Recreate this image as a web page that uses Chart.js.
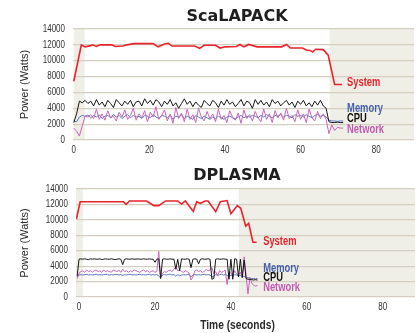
<!DOCTYPE html>
<html>
<head>
<meta charset="utf-8">
<script src="https://cdn.jsdelivr.net/npm/chart.js@4.4.1/dist/chart.umd.min.js"></script>
<style>
  html, body { margin: 0; padding: 0; background: #fff; }
  canvas { display: block; }
</style>
</head>
<body>
<canvas id="scalapack" width="417" height="167"></canvas>
<canvas id="dplasma" width="417" height="166"></canvas>
<script>
// ---- data ----
const xTicks = [0, 20, 40, 60, 80]
const yTicks = [0, 2000, 4000, 6000, 8000, 10000, 12000, 14000]
const seriesNames = ["System", "Memory", "CPU", "Network"]

// ScaLAPACK: sampled every 0.75 s starting at t = 0
const scaStart = 0
const scaStep = 0.75
const scaSystem = [
  [0, 7400], [2, 12000], [3, 11750], [4.5, 11900], [5, 12000], [6, 11800], [7, 12000], [10, 12000],
  [11, 11800], [13, 11850], [14, 12000], [16, 12150], [21, 12150], [22.3, 11750], [24, 12100],
  [25, 12200], [26, 11850], [32, 11850], [33.3, 11550], [34.5, 11950], [37.5, 11950], [38.7, 11600],
  [40, 11750], [43, 11800], [44, 12050], [45, 11750], [46.3, 12050], [48.5, 11750], [55, 11750],
  [56.3, 12050], [57.3, 11600], [60.5, 11600], [61.5, 11350], [62.5, 11300], [63.2, 11100],
  [64, 11450], [66, 11400], [67.3, 10700], [69, 7000], [71, 7000],
]
const scaCpu = [
  2200, 3300, 4900, 4700, 5000, 4600, 4900, 4300,
  5100, 4400, 4800, 4200, 5000, 4600, 4100, 5100,
  4700, 4300, 4900, 4500, 5000, 4200, 4800, 4900,
  4300, 5200, 4600, 5000, 4400, 5100, 4800, 4200,
  4900, 4500, 5100, 4300, 4700, 4000, 4600, 5200,
  4500, 4900, 4200, 4800, 4400, 4100, 5000, 4600,
  4300, 5000, 4700, 4100, 4900, 4400, 5100, 4500,
  4800, 4200, 4600, 5100, 4300, 4900, 4700, 4000,
  5100, 4500, 5000, 4400, 4800, 4200, 5100, 4600,
  4900, 4300, 4700, 5000, 4400, 4800, 4100, 4900,
  4500, 5000, 4300, 4700, 4200, 4900, 4400, 5000,
  4300, 4000, 2300, 2200, 2200, 2250, 2200, 2200,
]
const scaMemory = [
  2400, 2300, 2900, 3100, 3000, 3150, 2800, 3100,
  2900, 3200, 2700, 3000, 3100, 2800, 3200, 2900,
  3100, 2700, 3000, 3200, 2800, 3100, 2900, 3000,
  2700, 3100, 3000, 2800, 3200, 2900, 2700, 3100,
  3000, 2800, 3100, 2600, 3000, 2900, 3200, 2700,
  3000, 2800, 2600, 3100, 2900, 2700, 3000, 2800,
  2600, 2900, 2700, 3000, 2800, 2600, 2900, 3000,
  2800, 2700, 2900, 3100, 2800, 3000, 2900, 3100,
  3000, 2800, 3100, 2900, 3200, 3000, 2800, 3100,
  3000, 3200, 2900, 3100, 3000, 2800, 3200, 3000,
  3100, 2900, 3200, 3000, 2800, 3100, 3200, 3000,
  3100, 2900, 2500, 2400, 2400, 2350, 2400, 2400,
]
const scaNetwork = [
  1500, 1100, 500, 1800, 3000, 2900, 3200, 2700,
  3900, 2600, 3300, 2500, 3700, 2800, 3000, 2400,
  3500, 2900, 3800, 2600, 3100, 4000, 2500, 3300,
  2800, 3700, 2300, 3500, 2900, 4200, 2600, 3100,
  3800, 2400, 3300, 2100, 4100, 2700, 3400, 2300,
  3900, 2600, 3200, 2200, 4000, 2900, 2400, 3600,
  2700, 3300, 2300, 3900, 2600, 3100, 2200, 3700,
  2900, 2500, 3400, 2100, 3800, 2700, 3200, 2400,
  3600, 2800, 2300, 3900, 2600, 3300, 2200, 3700,
  2800, 3400, 2500, 4000, 2700, 3100, 2300, 3800,
  2600, 3300, 2200, 3900, 2800, 2400, 3600, 2700,
  3300, 2600, 800, 1900, 1200, 1600, 1500, 1500,
]
const scaShade = [[0, 2.9], [67.7, 90]]

// DPLASMA: sampled every 0.5 s starting at t = -0.5
const dplStart = -0.5
const dplStep = 0.5
const dplSystem = [
  [-0.7, 10100], [0.3, 12350], [11.7, 12350], [12.4, 12000], [13.3, 12450], [17.8, 12450],
  [19.7, 11850], [21, 11850], [22.8, 12450], [26, 12450], [27, 12050], [28, 12450], [30.1, 11100],
  [31, 12350], [32, 12150], [33.2, 12450], [34, 12450], [36, 11050], [37.2, 12350], [39, 12500],
  [40, 10800], [41.7, 11850], [42.6, 11500], [43.9, 9200], [44.7, 9550], [45.8, 7100], [46.8, 7100],
]
const dplCpu = [
  2700, 4900, 4950, 4900, 4950, 4900, 4850, 4950,
  4900, 4950, 4900, 4900, 4950, 4850, 4900, 4950,
  4900, 4900, 4950, 4900, 4850, 4900, 4950, 4900,
  4200, 4900, 4950, 4900, 4900, 4950, 4900, 4900,
  4950, 4900, 4900, 4950, 4900, 4900, 4950, 4900,
  4900, 4500, 4900, 4950, 2400, 4900, 4950, 4900,
  4900, 4950, 4900, 4900, 3600, 4900, 3400, 4950,
  4900, 4900, 4950, 4900, 3800, 4900, 4950, 4900,
  4300, 4900, 4950, 4900, 4900, 4950, 4900, 2300,
  2400, 4900, 4950, 4900, 4900, 4950, 4900, 4900,
  2300, 4900, 2300, 4950, 4900, 2600, 4900, 2500,
  4800, 2400, 2300, 2300, 2250, 2200, 2250, 2200,
]
const dplMemory = [
  2600, 2850, 2900, 2850, 2900, 2950, 2850, 2900,
  2850, 2900, 2950, 2850, 2900, 2850, 2900, 2950,
  2900, 2850, 2900, 2850, 2950, 2900, 2850, 2900,
  2800, 2900, 2850, 2900, 2950, 2850, 2900, 2850,
  2900, 2950, 2850, 2900, 2850, 2900, 2950, 2850,
  2900, 2850, 2900, 2700, 2500, 2850, 2900, 2850,
  2900, 2950, 2850, 2900, 2700, 2900, 2750, 2850,
  2900, 2850, 2900, 2950, 2600, 2850, 2900, 2850,
  2900, 2850, 2900, 2950, 2850, 2900, 2850, 2600,
  2700, 2900, 2850, 2900, 2950, 2850, 2900, 2850,
  2600, 2850, 2700, 2900, 2850, 2750, 2800, 2650,
  2700, 2550, 2500, 2450, 2400, 2400, 2350, 2400,
]
const dplNetwork = [
  2400, 3100, 3300, 3400, 3200, 3500, 3300, 3400,
  3200, 3400, 3500, 3300, 3400, 3200, 3500, 3300,
  3400, 3300, 3200, 3500, 3400, 3300, 3500, 3200,
  3600, 3300, 3400, 3200, 3400, 3300, 3500, 3400,
  3300, 3200, 3400, 3500, 3300, 3400, 3200, 3300,
  3400, 3200, 3300, 5900, 2500, 3100, 3300, 3200,
  3400, 3500, 3300, 3600, 3900, 3400, 3500, 3300,
  3200, 3400, 3300, 3100, 2200, 2600, 3400, 3500,
  3300, 3400, 3200, 3300, 3600, 3400, 3500, 3800,
  3000, 3300, 2700, 3400, 3200, 3300, 3500, 1600,
  3300, 3100, 2800, 3400, 3000, 2800, 3200, 2600,
  5200, 2800, 400, 2500, 1800, 1500, 1400, 1500,
]
const dplShade = [[-0.8, 1], [42.1, 88.5]]

// ---- styling ----
const colors = { System: "#e8232b", Memory: "#5a78c8", CPU: "#151515", Network: "#c865b8" }
const labelColors = { System: "#e8232b", Memory: "#4660ad", CPU: "#111", Network: "#c25ab4" }
const sans = '"Liberation Sans", Arial, sans-serif'

const toPoints = (values, start, step) => values.map((y, i) => ({ x: start + i * step, y }))

// text squeezed horizontally to mimic the condensed face of the original
const narrowText = (ctx, text, x, y, sx) => {
  ctx.save()
  ctx.translate(x, y)
  ctx.scale(sx, 1)
  ctx.fillText(text, 0, 0)
  ctx.restore()
}

const chartDecor = {
  id: "chartDecor",
  beforeDraw(chart, args, opts) {
    const { ctx, chartArea, scales } = chart
    ctx.save()
    ctx.fillStyle = "#f0efe7"
    opts.shade.forEach(([a, b]) => {
      const x1 = Math.max(scales.x.getPixelForValue(a), chartArea.left)
      const x2 = Math.min(scales.x.getPixelForValue(b), chartArea.right)
      ctx.fillRect(x1, chartArea.top, x2 - x1, chartArea.bottom - chartArea.top)
    })
    ctx.restore()
  },
  afterDatasetsDraw(chart, args, opts) {
    const { ctx, scales } = chart
    ctx.save()
    ctx.font = `bold 12px ${sans}`
    ctx.textAlign = "left"
    ctx.textBaseline = "middle"
    seriesNames.forEach((name, i) => {
      ctx.fillStyle = labelColors[name]
      narrowText(ctx, name, scales.x.getPixelForValue(opts.labelX), scales.y.getPixelForValue(opts.labelY[i]), 0.78)
    })
    ctx.restore()
  },
  afterDraw(chart, args, opts) {
    const { ctx, chartArea, scales } = chart
    ctx.save()
    // tick labels
    ctx.fillStyle = "#333"
    ctx.font = `10px ${sans}`
    ctx.textBaseline = "middle"
    ctx.textAlign = "right"
    scales.y.ticks.forEach((t) => {
      narrowText(ctx, String(t.value), chartArea.left - 8, scales.y.getPixelForValue(t.value), 0.8)
    })
    ctx.textAlign = "center"
    scales.x.ticks.forEach((t) => {
      narrowText(ctx, String(t.value), scales.x.getPixelForValue(t.value), chartArea.bottom + 10.5, 0.8)
    })
    // x axis title
    if (opts.xTitle) {
      ctx.fillStyle = "#2a2a2a"
      ctx.font = `bold 12px ${sans}`
      narrowText(ctx, opts.xTitle, 237.5, chartArea.bottom + 29, 0.85)
    }
    // chart title
    ctx.font = 'bold 16px "DejaVu Sans", sans-serif'
    ctx.fillStyle = "#1e1e1e"
    ctx.textAlign = "center"
    ctx.fillText(opts.title, 237, opts.titleY)
    ctx.restore()
  },
}

const makeChart = (id, c) => {
  const ctx = document.getElementById(id).getContext("2d")
  const line = (label, data, width) => ({
    label,
    data,
    borderColor: colors[label],
    borderWidth: width,
    pointRadius: 0,
    tension: 0,
    fill: false,
  })
  return new Chart(ctx, {
    type: "line",
    data: {
      datasets: [
        line("System", c.system.map(([x, y]) => ({ x, y })), 1.6),
        line("CPU", toPoints(c.cpu, c.start, c.step), 1),
        line("Network", toPoints(c.network, c.start, c.step), 1),
        line("Memory", toPoints(c.memory, c.start, c.step), 1),
      ],
    },
    options: {
      responsive: false,
      devicePixelRatio: 1,
      animation: false,
      layout: { padding: { top: c.padTop, right: c.padRight, left: 0, bottom: 0 } },
      plugins: {
        legend: { display: false },
        tooltip: { enabled: false },
        chartDecor: {
          shade: c.shade, labelX: c.labelX, labelY: c.labelY,
          title: c.title, titleY: c.titleY, xTitle: c.xTitle,
        },
      },
      scales: {
        x: {
          type: "linear",
          min: c.xMin,
          max: c.xMax,
          afterBuildTicks: (scale) => { scale.ticks = xTicks.map((v) => ({ value: v })) },
          afterFit: (scale) => { scale.height = c.xHeight },
          grid: { display: false },
          border: { display: false },
          ticks: { display: false },
        },
        y: {
          min: 0,
          max: 14000,
          afterBuildTicks: (scale) => { scale.ticks = yTicks.map((v) => ({ value: v })) },
          afterFit: (scale) => { scale.width = c.yWidth },
          grid: { color: "#d5cfc1", lineWidth: 1.2, drawTicks: false },
          border: { display: false },
          ticks: { display: false },
          title: {
            display: true,
            text: "Power (Watts)",
            color: "#2a2a2a",
            font: { family: sans, size: 11 },
            padding: { top: 18, bottom: 0 },
          },
        },
      },
    },
    plugins: [chartDecor],
  })
}

makeChart("scalapack", {
  title: "ScaLAPACK", titleY: 16.5,
  start: scaStart, step: scaStep,
  system: scaSystem, cpu: scaCpu, memory: scaMemory, network: scaNetwork,
  shade: scaShade, xMin: -0.2, xMax: 90,
  labelX: 72.3, labelY: [7200, 3900, 2650, 1350],
  padTop: 29, padRight: 3, xHeight: 27, yWidth: 73, xTitle: null,
})

makeChart("dplasma", {
  title: "DPLASMA", titleY: 8.5,
  start: dplStart, step: dplStep,
  system: dplSystem, cpu: dplCpu, memory: dplMemory, network: dplNetwork,
  shade: dplShade, xMin: -0.8, xMax: 88.5,
  labelX: 48.5, labelY: [7230, 3680, 2470, 1250],
  padTop: 22, padRight: 2, xHeight: 36, yWidth: 76, xTitle: "Time (seconds)",
})
</script>
</body>
</html>
